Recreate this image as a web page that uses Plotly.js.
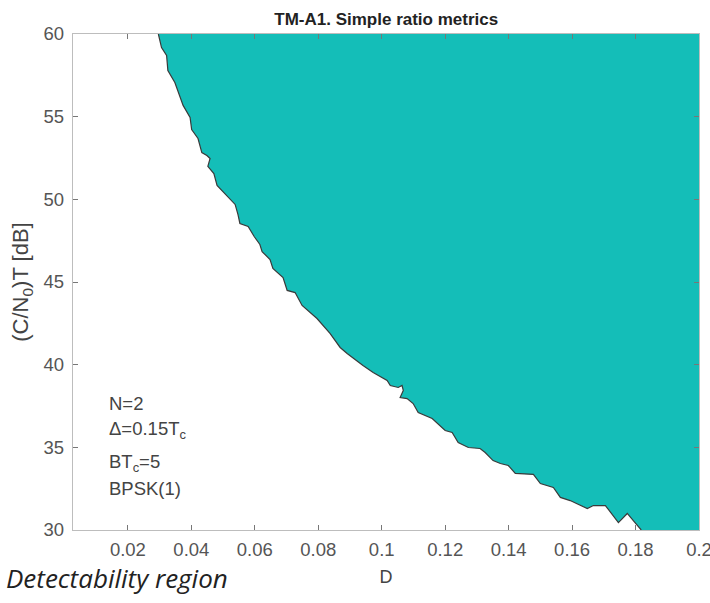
<!DOCTYPE html>
<html>
<head>
<meta charset="utf-8">
<script src="https://cdn.plot.ly/plotly-3.0.1.min.js"></script>
<style>
  html, body { margin: 0; padding: 0; background: #ffffff; }
  #chart { width: 710px; height: 603px; }
</style>
</head>
<body>
<div id="chart"></div>
<script>
// Boundary of the detectability region: D versus (C/N0)T in dB
const boundaryD = [
  0.0296, 0.0306, 0.0322, 0.0326, 0.0348, 0.0364, 0.0374, 0.0396, 0.0401, 0.0421,
  0.0433, 0.0449, 0.0459, 0.0452, 0.0471, 0.0481, 0.0509, 0.0538, 0.0547, 0.0553,
  0.0579, 0.0598, 0.0616, 0.0623, 0.0648, 0.0657, 0.0689, 0.0702, 0.0727, 0.0749,
  0.0796, 0.0837, 0.0869, 0.0891, 0.0941, 0.0973, 0.1017, 0.1027, 0.1052, 0.1064,
  0.1068, 0.1058, 0.1080, 0.1099, 0.1115, 0.1159, 0.1200, 0.1222, 0.1241, 0.1273,
  0.1310, 0.1326, 0.1351, 0.1374, 0.1399, 0.1421, 0.1478, 0.1500, 0.1541, 0.1563,
  0.1594, 0.1648, 0.1667, 0.1705, 0.1746, 0.1774, 0.1793, 0.1818
];
const boundaryCN0T = [
  60.00, 59.18, 58.70, 57.79, 57.07, 56.16, 55.68, 54.95, 54.22, 53.68,
  52.83, 52.65, 52.47, 51.99, 51.56, 50.84, 50.29, 49.69, 49.08, 48.54,
  48.36, 47.75, 47.27, 46.84, 46.36, 45.82, 45.27, 44.49, 44.36, 43.58,
  42.79, 41.89, 41.04, 40.68, 39.95, 39.53, 39.04, 38.74, 38.62, 38.74,
  38.44, 38.01, 37.95, 37.65, 37.11, 36.74, 36.02, 35.90, 35.29, 34.99,
  34.93, 34.69, 34.20, 34.02, 33.90, 33.42, 33.36, 32.81, 32.57, 31.97,
  31.78, 31.30, 31.48, 31.48, 30.45, 31.00, 30.57, 30.00
];

// Axis limits and ticks
const xLimits = [0.0027, 0.2];
const yLimits = [30, 60];
const xTickVals = [0.02, 0.04, 0.06, 0.08, 0.1, 0.12, 0.14, 0.16, 0.18, 0.2];
const xTickText = ['0.02', '0.04', '0.06', '0.08', '0.1', '0.12', '0.14', '0.16', '0.18', '0.2'];
const yTickVals = [30, 35, 40, 45, 50, 55, 60];

// Simulation parameters printed in the lower-left corner
const paramLabels = ['N=2', 'Δ=0.15T<sub>c</sub>', 'BT<sub>c</sub>=5', 'BPSK(1)'];
const paramY = [37.65, 36.02, 34.08, 32.51];
const paramX = 0.0134;

// Closed polygon: boundary, then down the right edge
const regionD = boundaryD.concat([xLimits[1], xLimits[1]]);
const regionCN0T = boundaryCN0T.concat([yLimits[0], yLimits[1]]);

const teal = 'rgb(20,190,184)';
const baseFont = 'Liberation Sans, Arial, Helvetica, sans-serif';

const traces = [
  {
    x: regionD, y: regionCN0T,
    type: 'scatter', mode: 'lines',
    fill: 'toself', fillcolor: teal,
    line: { width: 0, color: teal },
    hoverinfo: 'skip', showlegend: false
  },
  {
    x: boundaryD, y: boundaryCN0T,
    type: 'scatter', mode: 'lines',
    line: { width: 1.2, color: '#3a3a3a' },
    hoverinfo: 'skip', showlegend: false
  }
];

const axisCommon = {
  showgrid: false, zeroline: false,
  showline: true, linecolor: '#bdbdbd', linewidth: 1.2,
  mirror: 'ticks', ticks: 'inside', ticklen: 5, tickwidth: 1, tickcolor: '#777777',
  ticklabeloverflow: 'allow',
  tickfont: { family: baseFont, size: 18.5, color: '#555555' }
};

const layout = {
  width: 710, height: 603,
  margin: { l: 73, r: 11, t: 34, b: 73 },
  paper_bgcolor: '#ffffff', plot_bgcolor: '#ffffff',
  title: {
    text: '<b>TM-A1. Simple ratio metrics</b>',
    font: { family: baseFont, size: 17, color: '#222222' },
    x: 0.544, xanchor: 'center', y: 0.969, yanchor: 'middle', yref: 'container'
  },
  xaxis: Object.assign({}, axisCommon, {
    range: xLimits, tickvals: xTickVals, ticktext: xTickText,
    ticklabelstandoff: 3,
    title: { text: 'D', font: { family: baseFont, size: 18, color: '#444444' }, standoff: 11 }
  }),
  yaxis: Object.assign({}, axisCommon, {
    range: yLimits, tickvals: yTickVals,
    ticklabelstandoff: 4,
    title: { text: '(C/N<sub>0</sub>)T [dB]', font: { family: baseFont, size: 22, color: '#444444' }, standoff: 8 }
  }),
  annotations: paramLabels.map((t, i) => ({
    x: paramX, y: paramY[i], xref: 'x', yref: 'y',
    text: t, showarrow: false, xanchor: 'left', yanchor: 'middle',
    font: { family: baseFont, size: 18.5, color: '#444444' }
  })).concat([{
    x: 0, y: 0, xref: 'paper', yref: 'paper', xanchor: 'left', yanchor: 'middle',
    text: '<i>Detectability region</i>', showarrow: false,
    font: { family: 'Open Sans, sans-serif', size: 26, color: '#222222' }
  }])
};

// Caption position is given in pixels; convert to paper units
const plotW = layout.width - layout.margin.l - layout.margin.r;
const plotH = layout.height - layout.margin.t - layout.margin.b;
const cap = layout.annotations[layout.annotations.length - 1];
cap.x = (4 - layout.margin.l) / plotW;
cap.y = (layout.height - layout.margin.b - 578) / plotH;

Plotly.newPlot('chart', traces, layout, { displayModeBar: false, staticPlot: true });
</script>
</body>
</html>
